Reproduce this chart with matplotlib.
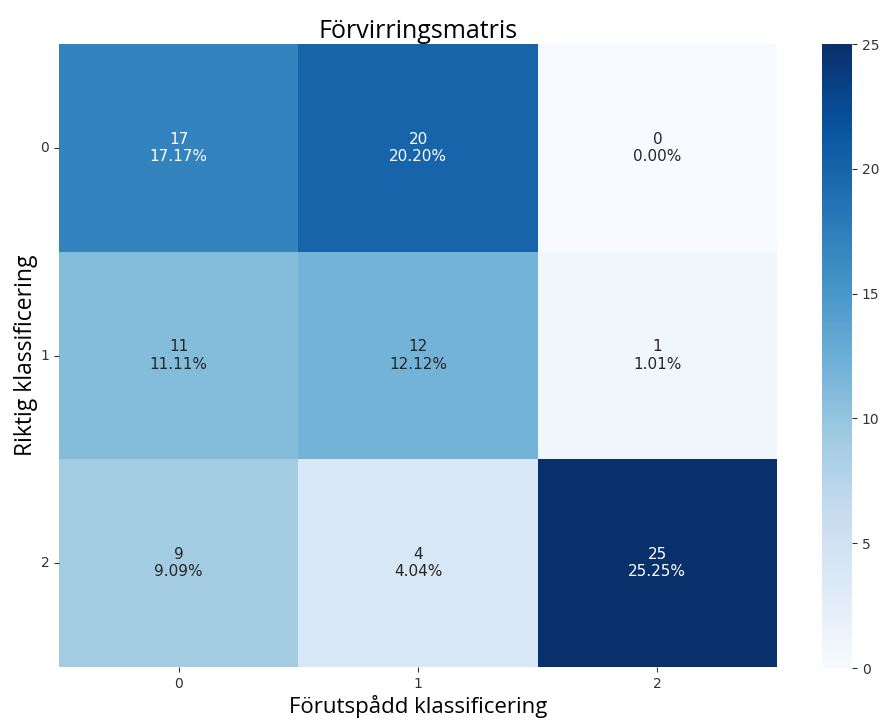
import numpy as np
import matplotlib
matplotlib.use("Agg")
import matplotlib.pyplot as plt
import seaborn as sns

counts = [[17, 20, 0],
          [11, 12, 1],
          [9, 4, 25]]
tick_labels = ["0", "1", "2"]
title = "Förvirringsmatris"
xlabel = "Förutspådd klassificering"
ylabel = "Riktig klassificering"

cm = np.array(counts)
total = cm.sum()
annot = np.array([[f"{v}\n{v/total:.2%}" for v in row] for row in cm])

fig = plt.figure(figsize=(8.83, 7.21), dpi=100)
ax = fig.add_axes([59/883, 1-667/721, (777-59)/883, (667-44)/721])
cax = fig.add_axes([822/883, 1-668/721, 30/883, (668-44)/721])
sns.heatmap(cm, annot=annot, fmt="", cmap="Blues", vmin=0, vmax=25,
            ax=ax, cbar_ax=cax, xticklabels=tick_labels, yticklabels=tick_labels,
            annot_kws={"fontsize": 11})
ax.tick_params(labelsize=10, colors="#333333")
ax.set_yticklabels(tick_labels, rotation=0)
cax.tick_params(labelsize=10, colors="#333333")
for sp in cax.spines.values():
    sp.set_visible(False)
ax.set_title(title, fontsize=18, family="Open Sans", pad=2)
ax.set_xlabel(xlabel, fontsize=16, family="Open Sans", labelpad=3)
ax.set_ylabel(ylabel, fontsize=16.5, family="Open Sans", labelpad=2)
fig.savefig("out.png", dpi=100)
